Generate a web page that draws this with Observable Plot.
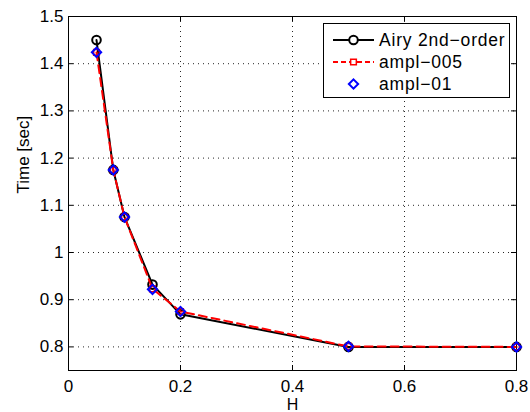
<!DOCTYPE html>
<html><head><meta charset="utf-8">
<script src="https://cdn.jsdelivr.net/npm/d3@7"></script>
<script src="https://cdn.jsdelivr.net/npm/@observablehq/plot@0.6"></script>
<style>
body{margin:0;background:#fff;}
#wrap{position:relative;width:530px;height:412px;font-family:"Liberation Sans",Arial,Helvetica,sans-serif;}
#legend{position:absolute;left:323px;top:23px;width:185px;height:73px;border:1px solid #000;background:#fff;}
#legend svg{display:block;}
</style></head><body><div id="wrap"></div>
<script>
const H = [0.05, 0.08, 0.1, 0.15, 0.2, 0.5, 0.8];
const airy = [1.45, 1.175, 1.075, 0.932, 0.869, 0.80, 0.80];
const ampl005 = [1.424, 1.175, 1.075, 0.923, 0.875, 0.801, 0.80];
const ampl01 = [1.424, 1.175, 1.075, 0.922, 0.875, 0.801, 0.80];
const xTicks = [0, 0.2, 0.4, 0.6, 0.8];
const yTicks = [0.8, 0.9, 1, 1.1, 1.2, 1.3, 1.4, 1.5];
const seriesNames = ["Airy 2nd\u2212order", "ampl\u2212005", "ampl\u221201"];

const rows = H.map((h, i) => ({H: h, airy: airy[i], a005: ampl005[i], a01: ampl01[i]}));

const W = 530, HT = 412, mL = 68, mR = 14, mT = 16, mB = 42;
const pw = W - mL - mR, ph = HT - mT - mB;
const font = "Liberation Sans, Arial, Helvetica, sans-serif";

const chart = Plot.plot({
  width: W, height: HT,
  marginLeft: mL, marginRight: mR, marginTop: mT, marginBottom: mB,
  style: {fontFamily: font, background: "white", color: "black"},
  x: {domain: [0, 0.8], axis: null},
  y: {domain: [0.75, 1.5], axis: null},
  marks: [
    Plot.gridX(xTicks, {stroke: "#000", strokeOpacity: 0.85, strokeDasharray: "1,4"}),
    Plot.gridY(yTicks, {stroke: "#000", strokeOpacity: 0.85, strokeDasharray: "1,4"}),
    Plot.tickX(xTicks, {x: d => d, stroke: "black", insetTop: ph - 5}),
    Plot.tickX(xTicks, {x: d => d, stroke: "black", insetBottom: ph - 5}),
    Plot.tickY(yTicks, {y: d => d, stroke: "black", insetRight: pw - 5}),
    Plot.tickY(yTicks, {y: d => d, stroke: "black", insetLeft: pw - 5}),
    Plot.frame({stroke: "black", strokeWidth: 1}),
    Plot.axisX({ticks: xTicks, tickSize: 0, tickPadding: 9, tickFormat: d => String(d), fontSize: 17, label: null, style: {letterSpacing: "0.5px"}}),
    Plot.axisY({ticks: yTicks, tickSize: 0, tickPadding: 5, tickFormat: d => String(d), fontSize: 17, label: null, style: {letterSpacing: "0.5px"}}),
    Plot.text(["H"], {frameAnchor: "bottom", dy: 34, fontSize: 16, lineAnchor: "middle"}),
    Plot.text(["Time [sec]"], {frameAnchor: "left", dx: -45, rotate: -90, fontSize: 17, lineAnchor: "middle"}),
    Plot.line(rows, {x: "H", y: "airy", stroke: "black", strokeWidth: 2}),
    Plot.dot(rows, {x: "H", y: "airy", symbol: "circle", r: 4.3, stroke: "black", strokeWidth: 2, fill: "none"}),
    Plot.line(rows, {x: "H", y: "a005", stroke: "#ff0000", strokeWidth: 2, strokeDasharray: "8,5"}),
    Plot.dot(rows, {x: "H", y: "a005", symbol: "square", r: 3.2, stroke: "#ff0000", strokeWidth: 1.5, fill: "none"}),
    Plot.dot(rows, {x: "H", y: "a01", symbol: "diamond2", r: 4.2, stroke: "#0000ff", strokeWidth: 2, fill: "none"})
  ]
});

const wrap = document.getElementById("wrap");
wrap.appendChild(chart);

// legend overlay
const legend = document.createElement("div");
legend.id = "legend";
const lsvg = d3.create("svg").attr("width", 185).attr("height", 73)
  .style("font-family", font);
const rowY = [16, 38, 60];
const styles = [
  {stroke: "black", dash: null, sym: d3.symbolCircle, size: Math.PI * 4.3 * 4.3, sw: 2, line: true},
  {stroke: "#ff0000", dash: "5,3", sym: d3.symbolSquare, size: Math.PI * 3.2 * 3.2, sw: 1.5, line: true},
  {stroke: "#0000ff", dash: null, sym: d3.symbolDiamond2, size: Math.PI * 4.2 * 4.2, sw: 2, line: false}
];
seriesNames.forEach((name, i) => {
  const s = styles[i];
  const g = lsvg.append("g").attr("transform", `translate(0,${rowY[i]})`);
  if (s.line) g.append("line").attr("x1", 9).attr("x2", 50).attr("stroke", s.stroke)
    .attr("stroke-width", 2).attr("stroke-dasharray", s.dash);
  g.append("path").attr("transform", "translate(29.5,0)")
    .attr("d", d3.symbol(s.sym, s.size)()).attr("fill", s.line ? "white" : "none")
    .attr("stroke", s.stroke).attr("stroke-width", s.sw);
  g.append("text").attr("x", 55).attr("dy", "0.35em").attr("font-size", 17.5)
    .attr("letter-spacing", "0.8px").text(name);
});
legend.appendChild(lsvg.node());
wrap.appendChild(legend);
</script></body></html>
